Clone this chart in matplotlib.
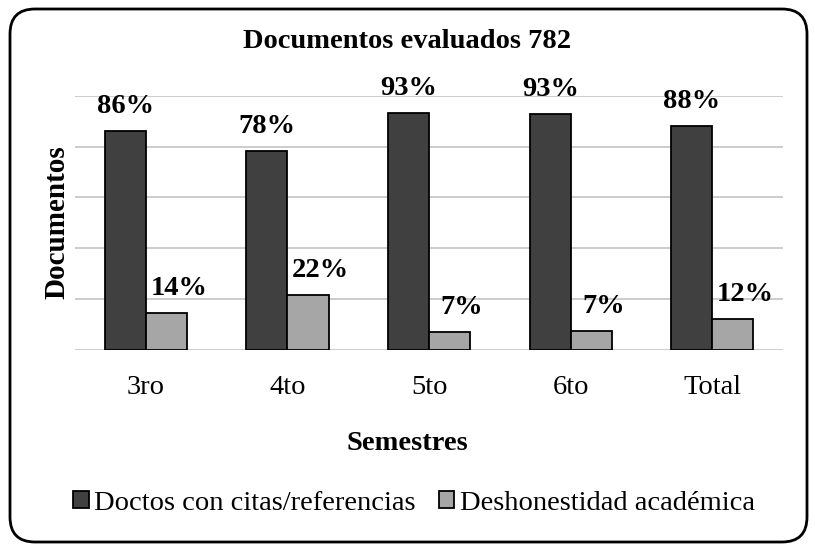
import numpy as np
import matplotlib
matplotlib.use("Agg")
import matplotlib.pyplot as plt
from matplotlib.patches import FancyBboxPatch
from matplotlib.transforms import IdentityTransform

# data (percent of 782 documents)
semestres = ["3ro", "4to", "5to", "6to", "Total"]
con_citas = [86.2, 78.3, 93.3, 92.9, 88.1]
deshonestidad = [14.4, 21.7, 7.1, 7.4, 12.1]
series_names = ["Doctos con citas/referencias", "Deshonestidad académica"]

plt.rcParams['font.family'] = ['Liberation Serif', 'DejaVu Serif']

fig = plt.figure(figsize=(8.15, 5.51), dpi=100, facecolor='w')
ax = fig.add_axes([0.092, 0.365, 0.869, 0.461])

x = np.arange(len(semestres))
w = 0.29
b1 = ax.bar(x - w/2, con_citas, w, color='#404040', edgecolor='black', lw=1.3,
            label=series_names[0], zorder=3)
b2 = ax.bar(x + w/2, deshonestidad, w, color='#a6a6a6', edgecolor='black', lw=1.3,
            label=series_names[1], zorder=3)

# percentage labels above the bars
for rect, v in zip(b1, con_citas):
    ax.annotate(f"{v:.0f}%", (rect.get_x() + rect.get_width()/2, rect.get_height()),
                xytext=(0, 13), textcoords='offset points', ha='center', va='baseline',
                fontsize=20.5, fontweight='bold', annotation_clip=False)
for rect, v in zip(b2, deshonestidad):
    ax.annotate(f"{v:.0f}%", (rect.get_x() + rect.get_width()/2, rect.get_height()),
                xytext=(9, 13), textcoords='offset points', ha='center', va='baseline',
                fontsize=20.5, fontweight='bold', annotation_clip=False)

ax.set_xlim(-0.5, len(semestres) - 0.5)
ax.set_ylim(0, 100)
ax.set_yticks(np.arange(0, 101, 20))
ax.set_yticklabels([])
ax.set_xticks(x)
ax.set_xticklabels(semestres, fontsize=20.5)
ax.tick_params(axis='both', length=0)
ax.tick_params(axis='x', pad=18)
ax.grid(axis='y', color='#c8c8c8', lw=1.3, zorder=0)
ax.set_axisbelow(True)
for spine in ('top', 'right', 'bottom', 'left'):
    ax.spines[spine].set_visible(False)

ax.set_xlabel('Semestres', fontsize=20.5, fontweight='bold')
ax.xaxis.set_label_coords(0.5, 1 - 444/551, transform=fig.transFigure)
ax.xaxis.label.set_va('center')
ax.set_ylabel('Documentos', fontsize=21, fontweight='bold')
ax.yaxis.set_label_coords(57/815, 1 - 222/551, transform=fig.transFigure)
ax.yaxis.label.set_va('center')

fig.text(0.5, 1 - 41/551, 'Documentos evaluados 782', ha='center', va='center',
         fontsize=20.5, fontweight='bold')

leg = fig.legend(handles=[b1, b2], loc='center', bbox_to_anchor=(414/815, 1 - 503/551),
                 ncol=2, frameon=False, fontsize=20.5, handlelength=0.55,
                 handleheight=0.55, handletextpad=0.2, columnspacing=0.8)

# rounded frame around the whole chart
frame = FancyBboxPatch((10, 9), 797, 533, boxstyle="round,pad=0,rounding_size=25",
                       transform=IdentityTransform(), fill=False, ec='black', lw=2)
fig.add_artist(frame)

fig.savefig('out.png', dpi=100, facecolor='w')
